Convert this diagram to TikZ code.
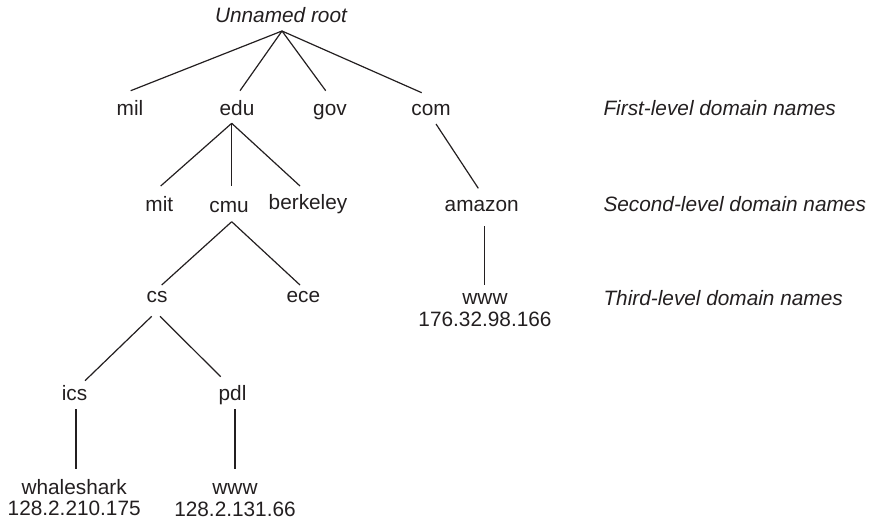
\documentclass[tikz,border=0pt]{standalone}
\usepackage{fontspec}
\setmainfont{Liberation Sans}
\usetikzlibrary{calc}
\definecolor{ink}{HTML}{231F20}
\begin{document}
\begin{tikzpicture}[x=1pt,y=-1pt,
  lbl/.style={anchor=base,inner sep=0pt,text=ink,align=center,font=\fontsize{20.8}{21.5}\selectfont},
  lvl/.style={anchor=base west,inner sep=0pt,text=ink,font=\fontsize{20.8}{21.5}\selectfont\itshape},
  edge/.style={draw=ink,line width=1.2pt}]
\useasboundingbox (0,0) rectangle (874,528);
% nodes (multi-line nodes are placed by the baseline of their last line)
\node[lbl,font=\fontsize{20.8}{21.5}\selectfont\itshape] (root) at (281,22) {Unnamed root};
\node[lbl] (mil) at (130,115) {mil};
\node[lbl] (edu) at (237,115) {edu};
\node[lbl] (gov) at (330,115) {gov};
\node[lbl] (com) at (431,115) {com};
\node[lbl] (mit) at (159.3,211.7) {mit};
\node[lbl] (cmu) at (229,212) {cmu};
\node[lbl] (berkeley) at (308,209.3) {berkeley};
\node[lbl] (amazon) at (481.7,211.7) {amazon};
\node[lbl] (cs) at (157,302.7) {cs};
\node[lbl] (ece) at (303.3,302.7) {ece};
\node[lbl] (wwwa) at (485,326) {www\\176.32.98.166};
\node[lbl] (ics) at (74.5,400) {ics};
\node[lbl] (pdl) at (232.5,400) {pdl};
\node[lbl] (whale) at (74.2,515.5) {whaleshark\\128.2.210.175};
\node[lbl] (wwwb) at (235,516) {www\\128.2.131.66};
% level labels
\node[lvl] (first) at (603.3,115) {First-level domain names};
\node[lvl] (second) at (603.3,211) {Second-level domain names};
\node[lvl] (third) at (603.3,305) {Third-level domain names};
% connectors
\draw[edge] ($(root.base)+(1,9)$) -- ($(mil.base)+(0.7,-24.3)$);
\draw[edge] ($(root.base)+(1,9)$) -- ($(edu.base)+(3,-24.3)$);
\draw[edge] ($(root.base)+(1,9)$) -- ($(gov.base)+(-4.3,-24.3)$);
\draw[edge] ($(root.base)+(1,9)$) -- ($(com.base)+(-9.3,-22.3)$);
\draw[edge] ($(edu.base)+(-5.3,8.3)$) -- ($(mit.base)+(1.4,-25.7)$);
\draw[edge] ($(edu.base)+(-5.3,8.3)$) -- ($(cmu.base)+(2.7,-26)$);
\draw[edge] ($(edu.base)+(-5.3,8.3)$) -- ($(berkeley.base)+(-8,-23.3)$);
\draw[edge] ($(com.base)+(5,9)$) -- ($(amazon.base)+(-3.4,-23.4)$);
\draw[edge] ($(amazon.base)+(2.6,14.3)$) -- ($(wwwa.base)+(-0.7,-41)$);
\draw[edge] ($(cmu.base)+(2.7,9.7)$) -- ($(cs.base)+(4.7,-17.7)$);
\draw[edge] ($(cmu.base)+(2.7,9.7)$) -- ($(ece.base)+(-3.3,-17.7)$);
\draw[edge] ($(cs.base)+(-5.3,13.6)$) -- ($(ics.base)+(10.5,-19.3)$);
\draw[edge] ($(cs.base)+(3,13.6)$) -- ($(pdl.base)+(-11.8,-23.3)$);
\draw[edge] ($(ics.base)+(1.5,9.3)$) -- ($(whale.base)+(1.8,-46.2)$);
\draw[edge] ($(pdl.base)+(2.5,9.3)$) -- ($(wwwb.base)+(0,-46.7)$);
\end{tikzpicture}
\end{document}
